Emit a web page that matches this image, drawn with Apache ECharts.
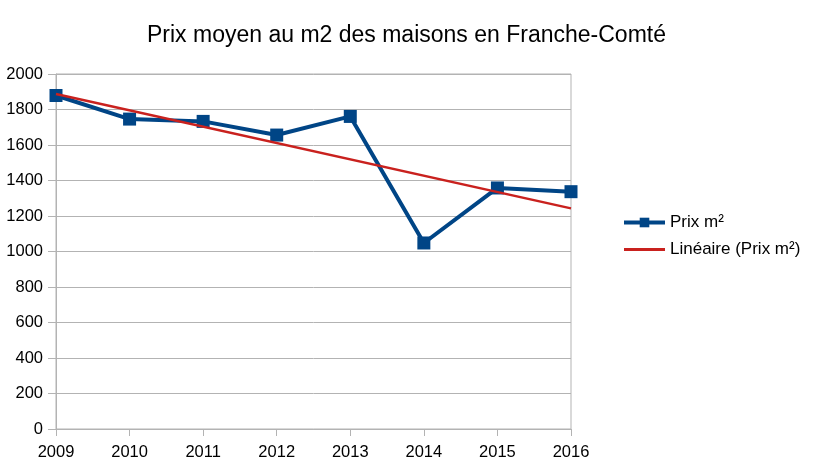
<!DOCTYPE html>
<html>
<head>
    <meta charset="utf-8">
    <title>Prix moyen au m2</title>
    <script src="https://cdn.jsdelivr.net/npm/echarts@6/dist/echarts.min.js"></script>
    <style>
        body { margin: 0; background: #fff; }
    </style>
</head>
<body>
<div id="main" style="width: 813px;height:470px;"></div>
<script type="text/javascript">
    // données
    var annees = ['2009', '2010', '2011', '2012', '2013', '2014', '2015', '2016'];
    var prixM2 = [1879, 1746, 1733, 1656, 1761, 1048, 1358, 1337];
    // tendance linéaire : seulement les deux extrémités
    var tendance = [1887, null, null, null, null, null, null, 1243];

    var myChart = echarts.init(document.getElementById('main'));

    var police = 'Liberation Sans';

    var option = {
        backgroundColor: '#fff',
        animation: false,
        title: {
            text: 'Prix moyen au m2 des maisons en Franche-Comté',
            left: 'center',
            top: 19,
            textStyle: {
                fontFamily: police,
                fontSize: 23,
                fontWeight: 'normal',
                color: '#000'
            }
        },
        legend: {
            orient: 'vertical',
            left: 617,
            top: 208,
            itemWidth: 41,
            itemHeight: 12,
            itemGap: 8,
            textStyle: {
                fontFamily: police,
                fontSize: 17,
                lineHeight: 19,
                color: '#000'
            },
            data: [
                { name: 'Prix m²', lineStyle: { width: 4 } },
                { name: 'Linéaire (Prix m²)', lineStyle: { width: 3 }, itemStyle: { opacity: 0 } }
            ]
        },
        grid: {
            left: 56,
            right: 242,
            top: 74,
            bottom: 41,
            show: true,
            borderColor: '#b3b3b3',
            borderWidth: 1
        },
        xAxis: {
            type: 'category',
            boundaryGap: false,
            data: annees,
            axisLine: { lineStyle: { color: '#b3b3b3' } },
            axisTick: { length: 7, lineStyle: { color: '#b3b3b3' } },
            axisLabel: {
                margin: 15,
                fontFamily: police,
                fontSize: 16.5,
                color: '#000'
            },
            splitLine: { show: false }
        },
        yAxis: {
            type: 'value',
            min: 0,
            max: 2000,
            interval: 200,
            axisLine: { show: true, lineStyle: { color: '#b3b3b3' } },
            axisTick: { show: true, length: 8, lineStyle: { color: '#b3b3b3' } },
            axisLabel: {
                margin: 13,
                fontFamily: police,
                fontSize: 16.5,
                color: '#000',
                formatter: function (v) { return String(v); }
            },
            splitLine: { lineStyle: { color: '#b3b3b3' } }
        },
        series: [{
            name: 'Prix m²',
            type: 'line',
            data: prixM2,
            symbol: 'rect',
            symbolSize: 13,
            lineStyle: { color: '#004586', width: 4 },
            itemStyle: { color: '#004586' },
            z: 2
        }, {
            name: 'Linéaire (Prix m²)',
            type: 'line',
            data: tendance,
            connectNulls: true,
            symbol: 'none',
            lineStyle: { color: '#c9211e', width: 2.5 },
            itemStyle: { color: '#c9211e' },
            z: 3
        }]
    };

    myChart.setOption(option);
</script>
</body>
</html>
